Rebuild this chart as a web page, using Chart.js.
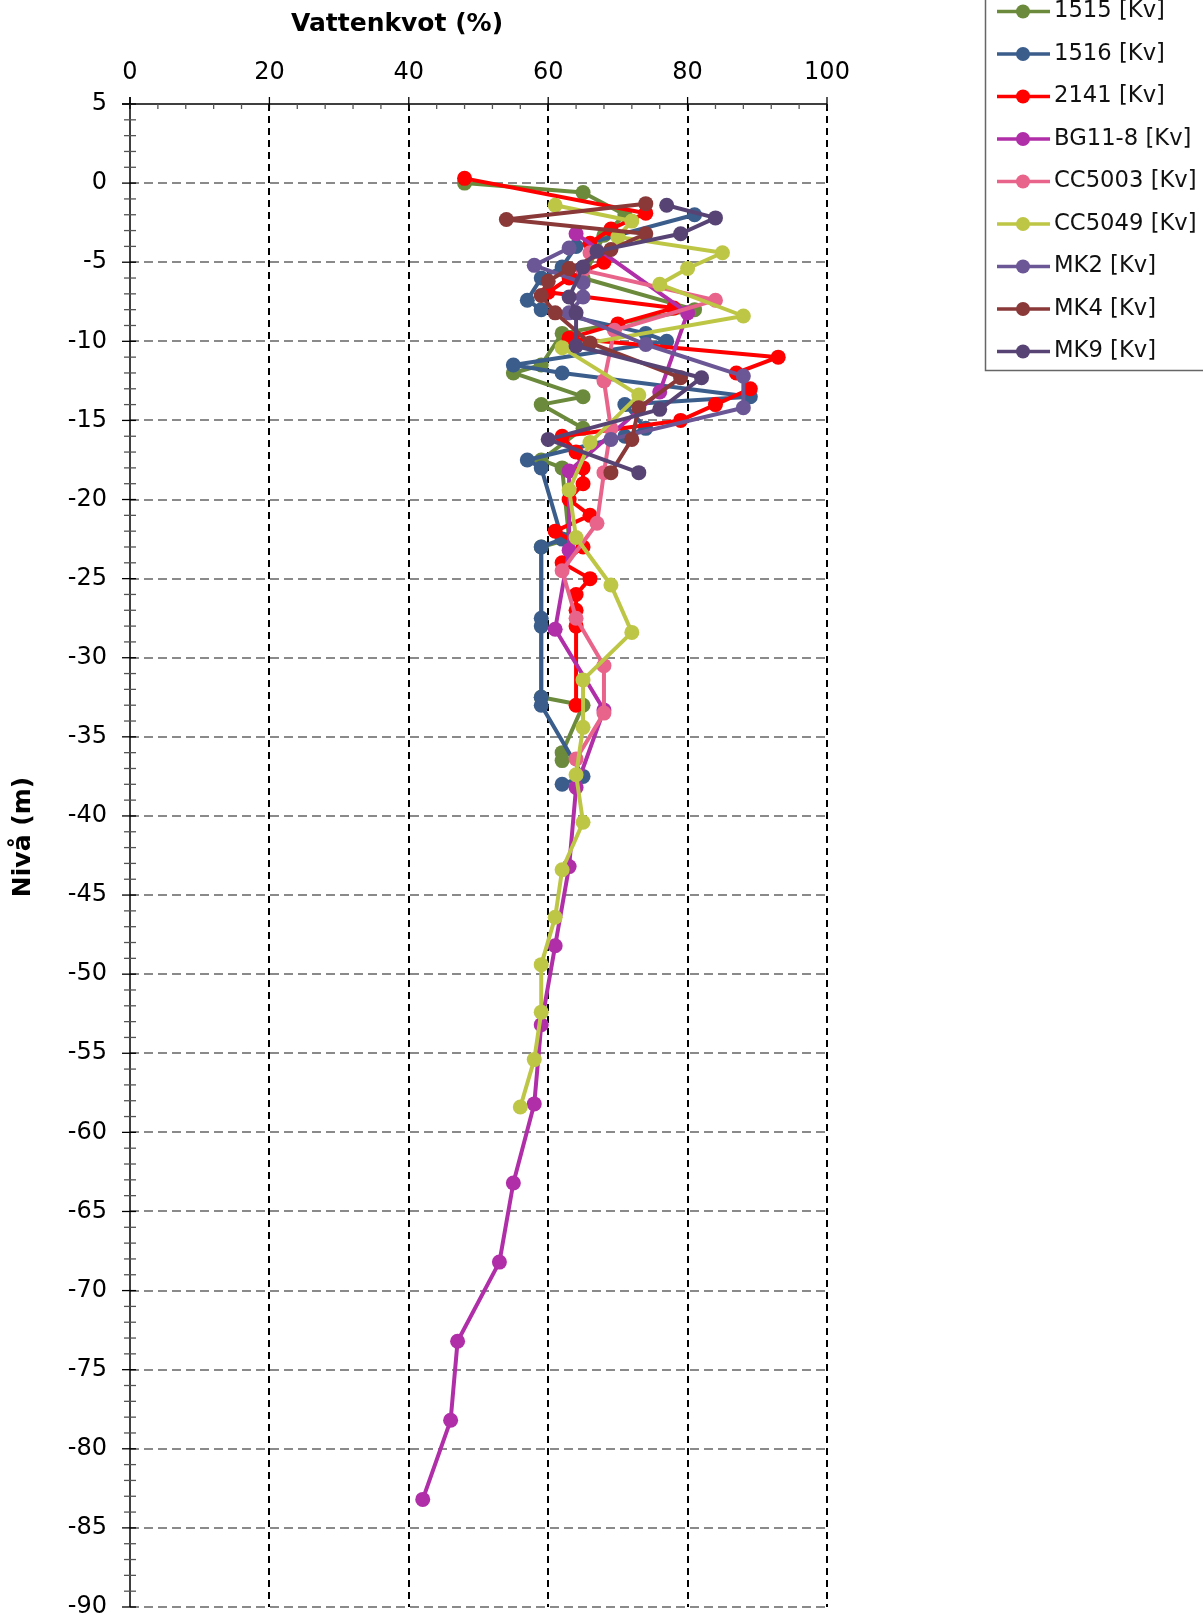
<!DOCTYPE html>
<html>
<head>
<meta charset="utf-8">
<script src="https://cdn.jsdelivr.net/npm/chart.js@4.4.1/dist/chart.umd.min.js"></script>
<style>
  body { margin: 0; background: #fff; }
  #wrap { width: 1203px; height: 1618px; position: relative; }
</style>
</head>
<body>
<div id="wrap"><canvas id="kvChart"></canvas></div>
<script>
// Vattenkvot (%) mot nivå (m) per borrpunkt
const xTicks = [0, 20, 40, 60, 80, 100]
const yTicks = [5, 0, -5, -10, -15, -20, -25, -30, -35, -40, -45, -50, -55, -60, -65, -70, -75, -80, -85, -90]

const niva1515 = [0, -0.6, -2.0, -3.3, -6.0, -8.0, -9.5, -11.5, -12.0, -13.5, -14.0, -15.5, -17.5, -18.0, -22.5, -23.0, -32.5, -33.0, -36.0, -36.5]
const kv1515   = [48, 65, 71, 68, 65, 81, 62, 59, 55, 65, 59, 65, 59, 62, 63, 59, 59, 65, 62, 62]

const niva1516 = [-2.0, -4.0, -5.3, -6.0, -7.4, -8.0, -9.5, -10.0, -11.5, -12.0, -13.5, -14.0, -15.5, -16.0, -17.5, -18.0, -22.5, -23.0, -27.5, -28.0, -32.5, -33.0, -37.5, -38.0]
const kv1516   = [81, 64, 62, 59, 57, 59, 74, 77, 55, 62, 89, 71, 74, 71, 57, 59, 62, 59, 59, 59, 59, 59, 65, 62]

const niva2141 = [0.3, -1.9, -2.9, -3.8, -5.0, -6.0, -6.9, -7.9, -8.9, -9.8, -11.0, -12.0, -13.0, -14.0, -15.0, -16.0, -17.0, -18.0, -19.0, -20.0, -21.0, -22.0, -23.0, -24.0, -25.0, -26.0, -27.0, -28.0, -33.0]
const kv2141   = [48, 74, 69, 66, 68, 63, 60, 78, 70, 63, 93, 87, 89, 84, 79, 62, 64, 65, 65, 63, 66, 61, 65, 62, 66, 64, 64, 64, 64]

const nivaBG = [-3.2, -8.2, -13.2, -18.2, -23.2, -28.2, -33.3, -38.2, -43.2, -48.2, -53.2, -58.2, -63.2, -68.2, -73.2, -78.2, -83.2]
const kvBG   = [64, 80, 76, 63, 63, 61, 68, 64, 63, 61, 59, 58, 55, 53, 47, 46, 42]

const niva5003 = [-4.4, -5.5, -7.4, -9.3, -12.5, -15.5, -18.3, -21.5, -24.5, -27.5, -30.5, -33.5, -36.4]
const kv5003   = [66, 65, 84, 69.5, 68, 69, 68, 67, 62, 64, 68, 68, 64]

const niva5049 = [-1.4, -2.4, -3.4, -4.4, -5.4, -6.4, -8.4, -10.4, -13.4, -16.4, -19.4, -22.4, -25.4, -28.4, -31.4, -34.4, -37.4, -40.4, -43.4, -46.4, -49.4, -52.4, -55.4, -58.4]
const kv5049   = [61, 72, 70, 85, 80, 76, 88, 62, 73, 66, 63, 64, 69, 72, 65, 65, 64, 65, 62, 61, 59, 59, 58, 56]

const nivaMK2 = [-4.1, -5.2, -6.3, -7.2, -8.2, -10.2, -12.2, -14.2, -16.2]
const kvMK2   = [63, 58, 65, 65, 63, 74, 88, 88, 69]

const nivaMK4 = [-1.3, -2.3, -3.2, -4.2, -5.4, -6.2, -7.1, -8.2, -10.1, -12.3, -14.2, -16.2, -18.3]
const kvMK4   = [74, 54, 74, 69, 63, 60, 59, 61, 66, 79, 73, 72, 69]

const nivaMK9 = [-1.4, -2.2, -3.2, -4.3, -5.3, -7.2, -8.2, -10.3, -12.3, -14.3, -16.2, -18.3]
const kvMK9   = [77, 84, 79, 67, 65, 63, 64, 64, 82, 76, 60, 73]

const series = [
  { label: '1515 [Kv]',    kv: kv1515, niva: niva1515, color: '#6b8a3c' },
  { label: '1516 [Kv]',    kv: kv1516, niva: niva1516, color: '#3a5d8c' },
  { label: '2141 [Kv]',    kv: kv2141, niva: niva2141, color: '#ff0000' },
  { label: 'BG11-8 [Kv]',  kv: kvBG,   niva: nivaBG,   color: '#b02ea8' },
  { label: 'CC5003 [Kv]',  kv: kv5003, niva: niva5003, color: '#e8648a' },
  { label: 'CC5049 [Kv]',  kv: kv5049, niva: niva5049, color: '#bec646' },
  { label: 'MK2 [Kv]',     kv: kvMK2,  niva: nivaMK2,  color: '#6c5796' },
  { label: 'MK4 [Kv]',     kv: kvMK4,  niva: nivaMK4,  color: '#8a3838' },
  { label: 'MK9 [Kv]',     kv: kvMK9,  niva: nivaMK9,  color: '#574474' }
]

const FONT = 'DejaVu Sans'

const datasets = series.map((s, i) => ({
  label: s.label,
  data: s.kv.map((v, k) => ({ x: v, y: s.niva[k] })),
  showLine: true,
  borderColor: s.color,
  backgroundColor: s.color,
  borderWidth: 4,
  borderJoinStyle: 'round',
  borderCapStyle: 'round',
  pointRadius: 7.5,
  pointHoverRadius: 7.5,
  pointBorderWidth: 0,
  // later series drawn on top
  order: series.length - 1 - i
}))

// no extra room for half labels at the axis ends
const noEdgePadding = s => {
  s.paddingTop = 0
  s.paddingBottom = 0
  s.paddingLeft = 0
  s.paddingRight = 0
}

// grid, axis lines, minor ticks, titles and the legend box
const frame = {
  id: 'frame',
  beforeDatasetsDraw(chart) {
    const { ctx, chartArea: a } = chart
    const xs = chart.scales.x, ys = chart.scales.y
    ctx.save()

    // horizontal grey dashes
    ctx.strokeStyle = '#8a8a8a'
    ctx.lineWidth = 2
    ctx.setLineDash([9, 5])
    yTicks.forEach(t => {
      if (t === 5) return
      const y = Math.round(ys.getPixelForValue(t))
      ctx.beginPath(); ctx.moveTo(a.left, y); ctx.lineTo(a.right + 2, y); ctx.stroke()
    })
    // vertical black dashes
    ctx.strokeStyle = '#000'
    ctx.setLineDash([7, 5])
    xTicks.forEach(t => {
      if (t === 0) return
      const x = Math.round(xs.getPixelForValue(t))
      ctx.beginPath(); ctx.moveTo(x, a.top); ctx.lineTo(x, a.bottom); ctx.stroke()
    })
    ctx.setLineDash([])

    // axis lines
    ctx.lineWidth = 1.5
    ctx.beginPath()
    ctx.moveTo(a.left - 8, a.top); ctx.lineTo(a.right, a.top)
    ctx.moveTo(a.left, a.top - 7); ctx.lineTo(a.left, a.bottom)
    ctx.stroke()

    // y ticks, every metre
    ctx.lineWidth = 1.3
    for (let v = -90; v <= 5; v++) {
      const y = ys.getPixelForValue(v)
      const major = v % 5 === 0
      ctx.strokeStyle = major ? '#000' : '#555'
      ctx.beginPath()
      ctx.moveTo(a.left - (major ? 8 : 6), y); ctx.lineTo(a.left + 6, y)
      ctx.stroke()
    }
    // x ticks, every 4 %
    for (let v = 0; v <= 100; v += 4) {
      const x = xs.getPixelForValue(v)
      ctx.strokeStyle = '#555'
      ctx.beginPath()
      ctx.moveTo(x, a.top); ctx.lineTo(x, a.top + 5)
      ctx.stroke()
    }
    xTicks.forEach(t => {
      const x = xs.getPixelForValue(t)
      ctx.strokeStyle = '#000'
      ctx.beginPath(); ctx.moveTo(x, a.top - 7); ctx.lineTo(x, a.top + 5); ctx.stroke()
    })

    // axis titles
    ctx.fillStyle = '#000'
    ctx.font = 'bold 25px "' + FONT + '"'
    ctx.textAlign = 'center'
    ctx.textBaseline = 'middle'
    ctx.fillText('Vattenkvot (%)', 397, 24)
    ctx.save()
    ctx.translate(23, 837)
    ctx.rotate(-Math.PI / 2)
    ctx.fillText('Nivå (m)', 0, 0)
    ctx.restore()

    ctx.restore()
  },
  afterDraw(chart) {
    const ctx = chart.ctx
    ctx.save()
    ctx.strokeStyle = '#666'
    ctx.lineWidth = 1.5
    ctx.strokeRect(985.5, -10, 240, 380.5)
    ctx.font = '22.7px "' + FONT + '"'
    ctx.textAlign = 'left'
    ctx.textBaseline = 'middle'
    chart.data.datasets.forEach((ds, i) => {
      const y = 11.5 + i * 42.5
      ctx.strokeStyle = ds.borderColor
      ctx.lineWidth = 3.5
      ctx.beginPath(); ctx.moveTo(997, y); ctx.lineTo(1050, y); ctx.stroke()
      ctx.fillStyle = ds.borderColor
      ctx.beginPath(); ctx.arc(1023, y, 7, 0, Math.PI * 2); ctx.fill()
      ctx.fillStyle = '#111'
      ctx.fillText(ds.label, 1054, y)
    })
    ctx.restore()
  }
}

window.onload = () => {
  const ctx = document.querySelector('#kvChart').getContext('2d')
  new Chart(ctx, {
    type: 'scatter',
    data: { datasets },
    options: {
      responsive: true,
      maintainAspectRatio: false,
      animation: false,
      layout: { padding: { left: 0, top: 0, right: 376, bottom: 11 } },
      plugins: { legend: { display: false }, tooltip: { enabled: false } },
      scales: {
        x: {
          type: 'linear',
          position: 'top',
          min: 0, max: 100,
          grid: { display: false, drawTicks: false },
          border: { display: false },
          ticks: {
            stepSize: 20, padding: 17, color: '#000',
            font: { family: FONT, size: 24 }
          },
          afterFit: s => { s.height = 104; noEdgePadding(s) }
        },
        y: {
          type: 'linear',
          min: -90, max: 5,
          grid: { display: false, drawTicks: false },
          border: { display: false },
          ticks: {
            stepSize: 5, padding: 23, color: '#000',
            font: { family: FONT, size: 24 },
            callback: v => String(v)
          },
          afterFit: s => { s.width = 130; noEdgePadding(s) }
        }
      }
    },
    plugins: [frame]
  })
}
</script>
</body>
</html>
